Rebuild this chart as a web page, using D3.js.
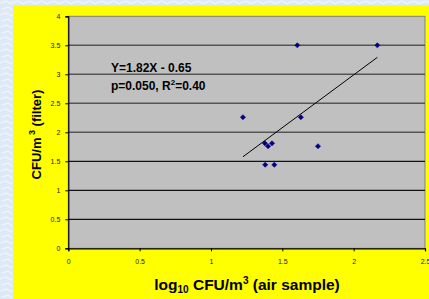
<!DOCTYPE html>
<html lang="en">
<head>
    <meta charset="UTF-8">
    <title>CFU/m3 filter vs air sample</title>
    <script src="https://d3js.org/d3.v7.min.js"></script>
    <style>
        body { margin: 0; background: #dfeaf7; }
        svg { display: block; }
        .tick text { font-family: Arial, "Liberation Sans", sans-serif; font-size: 7px; fill: #222; }
        .title { font-family: Arial, "Liberation Sans", sans-serif; font-weight: bold; fill: #000; }
    </style>
</head>
<body>
<svg width="429" height="299"></svg>
<script>
    // data
    const airSample = [1.224, 1.378, 1.400, 1.428, 1.380, 1.444, 1.605, 1.630, 1.750, 2.166];
    const filter    = [2.26,  1.81,  1.76,  1.81,  1.44,  1.44,  3.50,  2.26,  1.76,  3.50];
    const slope = 1.82, intercept = -0.65;
    const xTicks = [0, 0.5, 1, 1.5, 2, 2.5];
    const yTicks = [0, 0.5, 1, 1.5, 2, 2.5, 3, 3.5, 4];

    const svg = d3.select("svg");
    const W = 429, H = 299;

    // light blue textured background
    const defs = svg.append("defs");
    const pat = defs.append("pattern").attr("id", "bg").attr("width", 12).attr("height", 12)
        .attr("patternUnits", "userSpaceOnUse");
    pat.append("rect").attr("width", 12).attr("height", 12).attr("fill", "#dde9f7");
    pat.append("path").attr("d", "M0 3 L6 1 L12 4 M2 9 L8 7 L12 10")
        .attr("stroke", "#eef4fc").attr("stroke-width", 1.5).attr("fill", "none");
    svg.append("rect").attr("width", W).attr("height", H).attr("fill", "url(#bg)");

    // yellow chart panel
    svg.append("rect").attr("x", 13).attr("y", 5).attr("width", W - 13).attr("height", H - 5)
        .attr("fill", "#ffff00");

    const m = { left: 68.3, right: 425, top: 16.3, bottom: 248.3 };
    const x = d3.scaleLinear().domain([0, 2.5]).range([m.left, m.right]);
    const y = d3.scaleLinear().domain([0, 4]).range([m.bottom, m.top]);

    // plot area
    svg.append("rect").attr("x", m.left).attr("y", m.top)
        .attr("width", m.right - m.left).attr("height", m.bottom - m.top)
        .attr("fill", "#c0c0c0").attr("stroke", "#808080").attr("stroke-width", 1);

    // gridlines
    svg.append("g").selectAll("line").data(yTicks.filter(d => d > 0 && d < 4)).join("line")
        .attr("x1", m.left).attr("x2", m.right)
        .attr("y1", d => y(d)).attr("y2", d => y(d))
        .attr("stroke", d => d >= 2 ? "#555" : "#111").attr("stroke-width", d => d >= 2 ? 1.5 : 1.2);

    // axes
    const xAxis = svg.append("g").attr("transform", `translate(0,${m.bottom})`)
        .call(d3.axisBottom(x).tickValues(xTicks).tickSize(3).tickPadding(8).tickFormat(d3.format("")));
    const yAxis = svg.append("g").attr("transform", `translate(${m.left},0)`)
        .call(d3.axisLeft(y).tickValues(yTicks).tickSize(3).tickPadding(5).tickFormat(d3.format("")));
    [xAxis, yAxis].forEach(a => {
        a.select(".domain").attr("stroke", "#000").attr("stroke-width", 1.2);
        a.selectAll(".tick line").attr("stroke", "#000");
    });

    // regression line
    const xr = d3.extent(airSample);
    svg.append("line")
        .attr("x1", x(xr[0])).attr("y1", y(slope * xr[0] + intercept))
        .attr("x2", x(xr[1])).attr("y2", y(slope * xr[1] + intercept))
        .attr("stroke", "#000").attr("stroke-width", 1);

    // points (small square diamonds)
    const diamond = d3.symbol().type(d3.symbolSquare).size(13);
    svg.append("g").selectAll("path").data(airSample).join("path")
        .attr("d", diamond)
        .attr("transform", (d, i) => `translate(${x(d)},${y(filter[i])}) rotate(45)`)
        .attr("fill", "#000080").attr("stroke", "#000080").attr("stroke-width", 0.6);

    // annotation
    svg.append("text").attr("class", "title").attr("x", 111).attr("y", 71.5).attr("font-size", 12)
        .text("Y=1.82X - 0.65");
    const ann = svg.append("text").attr("class", "title").attr("x", 111).attr("y", 90).attr("font-size", 12);
    ann.append("tspan").text("p=0.050, R");
    ann.append("tspan").attr("font-size", 8).attr("dy", -5).text("2");
    ann.append("tspan").attr("dy", 5).text("=0.40");

    // x axis title
    const xt = svg.append("text").attr("class", "title").attr("x", 247).attr("y", 290)
        .attr("text-anchor", "middle").attr("font-size", 15.5);
    xt.append("tspan").text("log");
    xt.append("tspan").attr("font-size", 10).attr("dy", 3).text("10");
    xt.append("tspan").attr("dy", -3).text(" CFU/m");
    xt.append("tspan").attr("font-size", 10).attr("dy", -6).text("3");
    xt.append("tspan").attr("dy", 6).text(" (air sample)");

    // y axis title
    const yt = svg.append("text").attr("class", "title")
        .attr("transform", "translate(41,134.5) rotate(-90)")
        .attr("text-anchor", "middle").attr("font-size", 13);
    yt.append("tspan").text("CFU/m");
    yt.append("tspan").attr("font-size", 9).attr("dy", -6).text(" 3");
    yt.append("tspan").attr("dy", 6).text(" (filter)");
</script>
</body>
</html>
